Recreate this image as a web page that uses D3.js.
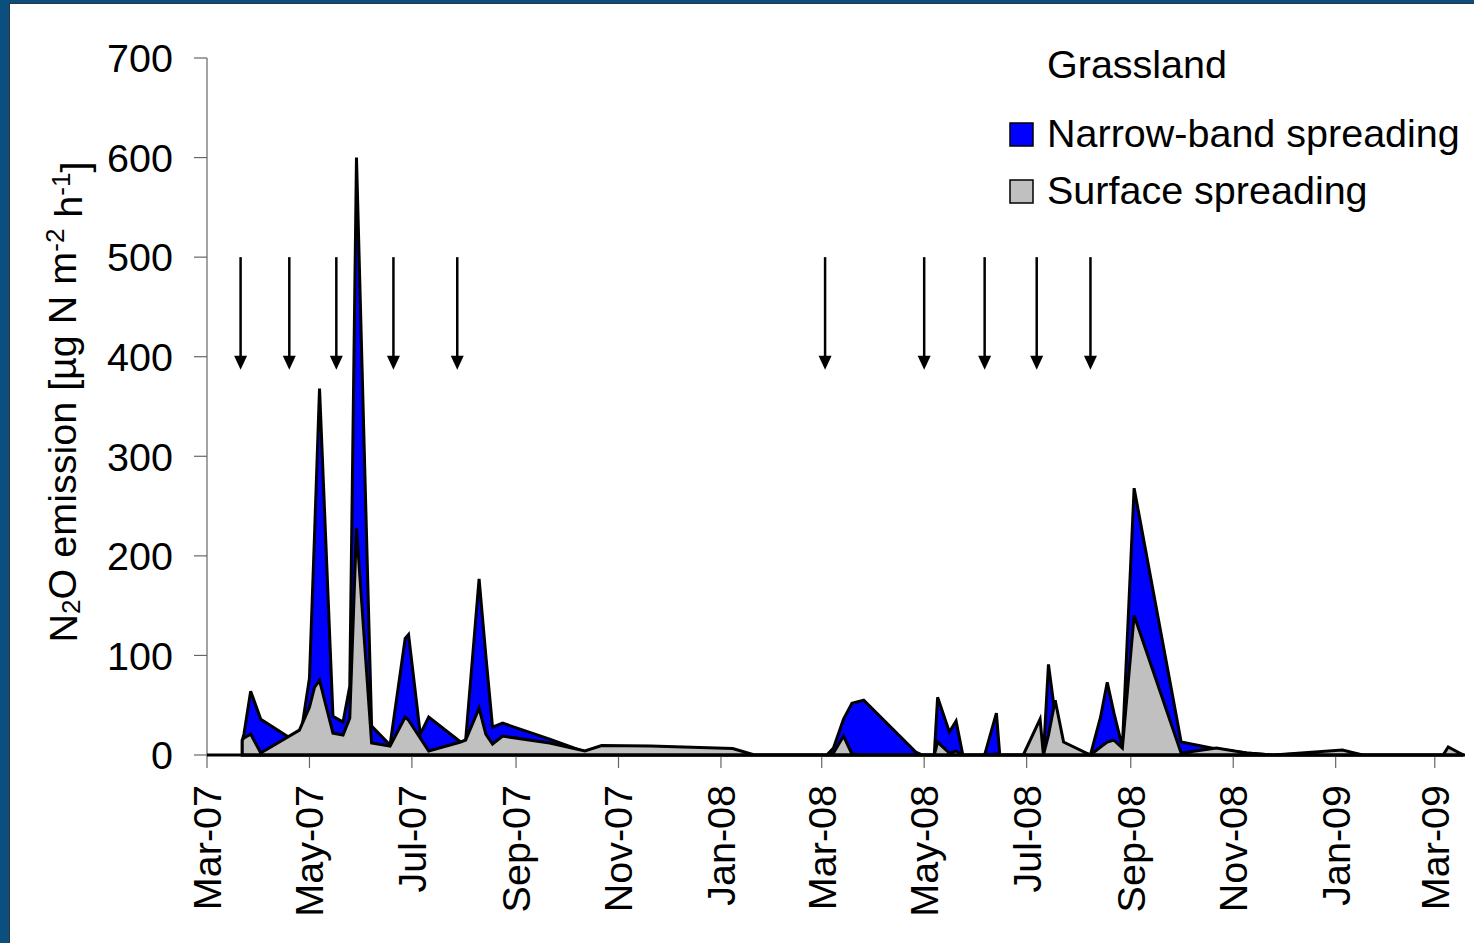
<!DOCTYPE html>
<html>
<head>
<meta charset="utf-8">
<script src="https://cdn.jsdelivr.net/npm/d3@7"></script>
<style>
  body { margin: 0; background: #fff; }
  svg { display: block; font-family: "Liberation Sans", Arial, sans-serif; }
</style>
</head>
<body>
<div id="chart"></div>
<script>
let w = 1474,
    h = 943;

let margin = { top: 58, bottom: 188, left: 207, right: 9 };

// sampling dates (shared by both series)
let dates = [
  "2007-03-22", "2007-03-23", "2007-03-27", "2007-04-02", "2007-04-25", "2007-05-01",
  "2007-05-04", "2007-05-07", "2007-05-15", "2007-05-21", "2007-05-25", "2007-05-29",
  "2007-06-07", "2007-06-18", "2007-06-27", "2007-06-29", "2007-07-06", "2007-07-11",
  "2007-07-30", "2007-08-02", "2007-08-10", "2007-08-14", "2007-08-18", "2007-08-24",
  "2007-09-21", "2007-10-12", "2007-10-22", "2007-11-20", "2008-01-08", "2008-01-21",
  "2008-03-04", "2008-03-08", "2008-03-14", "2008-03-19", "2008-03-26", "2008-04-26",
  "2008-04-30", "2008-05-07", "2008-05-09", "2008-05-16", "2008-05-20", "2008-05-24",
  "2008-06-06", "2008-06-13", "2008-06-15", "2008-06-29", "2008-07-09", "2008-07-11",
  "2008-07-14", "2008-07-18", "2008-07-23", "2008-08-08", "2008-08-14", "2008-08-18",
  "2008-08-22", "2008-08-27", "2008-09-03", "2008-10-01", "2008-10-22", "2008-11-09",
  "2008-11-25", "2009-01-05", "2009-01-17", "2009-03-06", "2009-03-09", "2009-03-18"
];

// Narrow-band spreading
let narrowBand = [
  15, 21, 64, 36, 11, 77,
  220, 368, 39, 33, 69, 600,
  29, 10, 117, 121, 21, 38,
  13, 15, 177, 100, 28, 32,
  16, 3, 0, 0, 0, 0,
  0, 7, 36, 52, 55, 3,
  0, 0, 58, 23, 34, 0,
  0, 42, 0, 0, 0, 0,
  91, 40, 10, 0, 38, 73,
  42, 8, 268, 13, 6, 2,
  0, 3, 0, 0, 6, 0
];

// Surface spreading
let surface = [
  15, 17, 21, 2, 25, 48,
  68, 75, 22, 20, 37, 228,
  12, 9, 38, 35, 17, 4,
  13, 15, 47, 21, 11, 19,
  12, 4, 9.5, 9, 6.5, 0,
  0, 2, 19, 1, 0, 0,
  0, 0, 13, 2, 4, 0,
  0, 1, 0, 0, 36, 0,
  20, 55, 13, 0, 8, 13,
  15, 7, 140, 2, 7, 2,
  0, 5, 0, 0, 8, 0
];

// fertilisation events (arrows)
let arrowDates = [
  "2007-03-21", "2007-04-19", "2007-05-17", "2007-06-20", "2007-07-28",
  "2008-03-03", "2008-05-01", "2008-06-06", "2008-07-07", "2008-08-08"
];
let arrowTop = 500,
    arrowTip = 387;

let yTicks = [0, 100, 200, 300, 400, 500, 600, 700];

let seriesNames = ["Narrow-band spreading", "Surface spreading"];
let seriesColors = ["#0000ff", "#c0c0c0"];

let parse = d3.timeParse("%Y-%m-%d");

let x = d3.scaleTime()
          .domain([parse("2007-03-01"), parse("2009-03-19")])
          .range([margin.left, w - margin.right]);

let y = d3.scaleLinear()
          .domain([0, 700])
          .range([h - margin.bottom, margin.top]);

let svg = d3.select("#chart")
            .append("svg")
            .attr("width", w)
            .attr("height", h);

// frame
svg.append("rect")
   .attr("x", 0).attr("y", 0)
   .attr("width", w).attr("height", h)
   .attr("fill", "#0b4f7e");
svg.append("rect")
   .attr("x", 9.5).attr("y", 3.5)
   .attr("width", w).attr("height", h)
   .attr("fill", "#fff")
   .attr("stroke", "#333")
   .attr("stroke-width", 1);

let points = dates.map((d, i) => ({ date: parse(d), nb: narrowBand[i], sf: surface[i] }));

let area = key => d3.area()
                    .x(d => x(d.date))
                    .y0(y(0))
                    .y1(d => y(d[key]));

svg.append("path")
   .datum(points)
   .attr("d", area("nb"))
   .attr("fill", seriesColors[0])
   .attr("stroke", "#000")
   .attr("stroke-width", 3)
   .attr("stroke-linejoin", "miter");

svg.append("path")
   .datum(points)
   .attr("d", area("sf"))
   .attr("fill", seriesColors[1])
   .attr("stroke", "#000")
   .attr("stroke-width", 3)
   .attr("stroke-linejoin", "miter");

// y axis
svg.append("line")
   .attr("x1", margin.left).attr("x2", margin.left)
   .attr("y1", y(700)).attr("y2", y(0))
   .attr("stroke", "#666").attr("stroke-width", 1.2);

let yt = svg.selectAll(".ytick")
            .data(yTicks)
            .enter()
            .append("g")
            .attr("transform", d => "translate(0," + y(d) + ")");
yt.append("line")
  .attr("x1", margin.left - 13).attr("x2", margin.left)
  .attr("stroke", "#666").attr("stroke-width", 1.2);
yt.append("text")
  .attr("x", 173)
  .attr("dy", "0.36em")
  .attr("text-anchor", "end")
  .style("font-size", "39.5px")
  .text(d => d);

// x axis
let xTicks = d3.timeMonth.every(2).range(parse("2007-03-01"), parse("2009-03-19"));
let fmt = d3.timeFormat("%b-%y");

let xt = svg.selectAll(".xtick")
            .data(xTicks)
            .enter()
            .append("g")
            .attr("transform", d => "translate(" + x(d) + "," + y(0) + ")");
xt.append("line")
  .attr("y1", 0).attr("y2", 13)
  .attr("stroke", "#666").attr("stroke-width", 1.2);
xt.append("text")
  .attr("transform", "translate(14,30) rotate(-90)")
  .attr("text-anchor", "end")
  .style("font-size", "39.5px")
  .text(d => fmt(d));

svg.append("line")
   .attr("x1", margin.left).attr("x2", w - margin.right)
   .attr("y1", y(0)).attr("y2", y(0))
   .attr("stroke", "#000").attr("stroke-width", 3);

// arrows
let arrows = svg.selectAll(".arrow")
                .data(arrowDates.map(parse))
                .enter()
                .append("g");
arrows.append("line")
      .attr("x1", d => x(d)).attr("x2", d => x(d))
      .attr("y1", y(arrowTop)).attr("y2", y(arrowTip) - 10)
      .attr("stroke", "#000").attr("stroke-width", 2.5);
arrows.append("path")
      .attr("d", d => {
        let ax = x(d), ay = y(arrowTip);
        return "M" + (ax - 6.5) + "," + (ay - 14) + "L" + (ax + 6.5) + "," + (ay - 14) + "L" + ax + "," + ay + "Z";
      })
      .attr("fill", "#000");

// y axis title
let title = svg.append("text")
               .attr("transform", "translate(77,402) rotate(-90)")
               .attr("text-anchor", "middle")
               .style("font-size", "39.5px");
title.append("tspan").text("N");
title.append("tspan").attr("dy", "0.1em").style("font-size", "26px").text("2");
title.append("tspan").attr("dy", "-0.1em").text("O emission [\u00b5g N m");
title.append("tspan").attr("dy", "-0.45em").style("font-size", "26px").text("-2");
title.append("tspan").attr("dy", "0.45em").text(" h");
title.append("tspan").attr("dy", "-0.45em").style("font-size", "26px").text("-1");
title.append("tspan").attr("dy", "0.45em").text("]");

// legend
svg.append("text")
   .attr("x", 1047).attr("y", 78)
   .style("font-size", "39.5px")
   .text("Grassland");

let legend = svg.selectAll(".legend")
                .data(seriesNames)
                .enter()
                .append("g")
                .attr("transform", (d, i) => "translate(1010," + (123 + i * 57) + ")");
legend.append("rect")
      .attr("width", 23).attr("height", 23)
      .attr("fill", (d, i) => seriesColors[i])
      .attr("stroke", "#000").attr("stroke-width", 1.5);
legend.append("text")
      .attr("x", 37).attr("y", 24)
      .style("font-size", "39.5px")
      .text(d => d);
</script>
</body>
</html>
